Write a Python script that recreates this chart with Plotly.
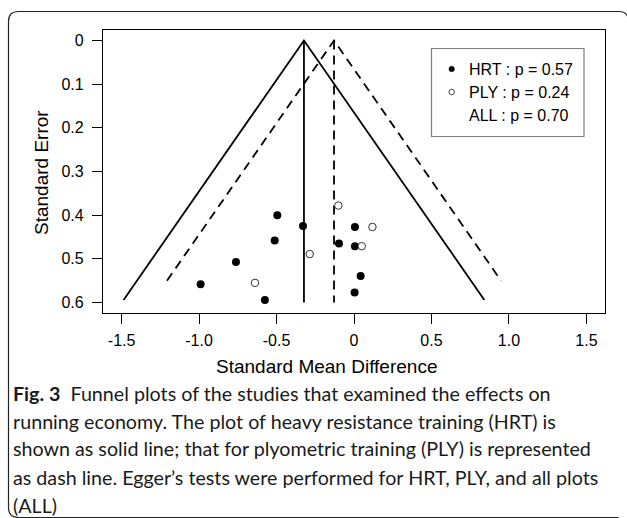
import plotly.graph_objects as go

# ---- data ----
hrt_smd = [-0.495, -0.329, -0.512, -0.762, -0.990, -0.575, 0.006, -0.097, 0.006, 0.043, 0.004]
hrt_se = [0.400, 0.425, 0.458, 0.507, 0.558, 0.594, 0.427, 0.465, 0.471, 0.539, 0.577]
ply_smd = [-0.101, 0.119, 0.050, -0.286, -0.639]
ply_se = [0.378, 0.427, 0.471, 0.489, 0.555]

hrt_mean = -0.323
ply_mean = -0.129
hrt_funnel_se = 0.594
ply_funnel_se = 0.550
center_line_se = 0.600

legend_labels = ["HRT : p = 0.57", "PLY : p = 0.24", "ALL : p = 0.70"]

x_ticks = [-1.5, -1.0, -0.5, 0, 0.5, 1.0, 1.5]
x_ticktext = ["-1.5", "-1.0", "-0.5", "0", "0.5", "1.0", "1.5"]
y_ticks = [0, 0.1, 0.2, 0.3, 0.4, 0.5, 0.6]
y_ticktext = ["0", "0.1", "0.2", "0.3", "0.4", "0.5", "0.6"]

caption_lines = [
    "<b>Fig. 3</b>\u00a0\u00a0Funnel plots of the studies that examined the effects on",
    "running economy. The plot of heavy resistance training (HRT) is",
    "shown as solid line; that for plyometric training (PLY) is represented",
    "as dash line. Egger\u2019s tests were performed for HRT, PLY, and all plots",
    "(ALL)",
]

# ---- layout geometry (pixels) ----
W_FIG, H_FIG = 627, 518
L, R, T, B = 103, 605, 30, 313
PW, PH = R - L, B - T


def px(x):
    return (x - L) / PW


def py(y):
    return (B - y) / PH


AX_FONT = "Liberation Sans, Arial, sans-serif"
CAP_FONT = "Lato, sans-serif"
z = 1.96

fig = go.Figure()

# funnels
for mean, se_max, dash in [(hrt_mean, hrt_funnel_se, "solid"), (ply_mean, ply_funnel_se, "9px,6px")]:
    fig.add_trace(go.Scatter(
        x=[mean - z * se_max, mean, mean + z * se_max],
        y=[se_max, 0, se_max],
        mode="lines", line=dict(color="black", width=1.8, dash=dash),
        hoverinfo="skip", showlegend=False))
    fig.add_trace(go.Scatter(
        x=[mean, mean], y=[0, center_line_se],
        mode="lines", line=dict(color="black", width=1.8, dash=dash),
        hoverinfo="skip", showlegend=False))

fig.add_trace(go.Scatter(
    x=hrt_smd, y=hrt_se, mode="markers",
    marker=dict(color="black", size=8, line=dict(width=0)),
    showlegend=False))
fig.add_trace(go.Scatter(
    x=ply_smd, y=ply_se, mode="markers",
    marker=dict(color="white", size=7.5, line=dict(color="#333333", width=1)),
    showlegend=False))

axis_common = dict(
    showgrid=False, zeroline=False, showline=True, mirror=True,
    linecolor="black", linewidth=1.3,
    ticks="outside", ticklen=10, tickwidth=1.3, tickcolor="black",
    tickfont=dict(family=AX_FONT, size=16, color="black"),
)

fig.update_xaxes(range=[-1.62, 1.62], tickvals=x_ticks, ticktext=x_ticktext,
                 ticklabelstandoff=3, **axis_common)
fig.update_yaxes(range=[0.624, -0.024], tickvals=y_ticks, ticktext=y_ticktext,
                 ticklabelstandoff=5, **axis_common)

shapes = []
annotations = []

# outer rounded frame (left side, top with both corners, bottom-left corner)
fx0, fy0, fx1, fy1, r = 8.5, 11.5, 628.5, 517.5, 10
path = (
    f"M {px(fx0)},{py(fy1 - r)} "
    f"L {px(fx0)},{py(fy0 + r)} "
    f"Q {px(fx0)},{py(fy0)} {px(fx0 + r)},{py(fy0)} "
    f"L {px(fx1 - r)},{py(fy0)} "
    f"Q {px(fx1)},{py(fy0)} {px(fx1)},{py(fy0 + r)} "
    f"M {px(fx0)},{py(fy1 - r)} "
    f"Q {px(fx0)},{py(fy1)} {px(fx0 + r)},{py(fy1)} "
    f"L {px(fx1 - r)},{py(fy1)}"
)
shapes.append(dict(type="path", xref="paper", yref="paper", path=path,
                   line=dict(color="#222222", width=1.2), layer="below"))

# legend box
shapes.append(dict(type="rect", xref="paper", yref="paper",
                   x0=px(431.5), x1=px(584), y0=py(136.5), y1=py(48.5),
                   line=dict(color="#7f7f7f", width=1.2), fillcolor="white"))
row_y = [69, 92, 115]
mx = 451.7
d = 5.5
shapes.append(dict(type="circle", xref="paper", yref="paper",
                   x0=px(mx - d / 2), x1=px(mx + d / 2), y0=py(row_y[0] + d / 2), y1=py(row_y[0] - d / 2),
                   fillcolor="black", line=dict(color="black", width=0.5)))
shapes.append(dict(type="circle", xref="paper", yref="paper",
                   x0=px(mx - d / 2), x1=px(mx + d / 2), y0=py(row_y[1] + d / 2), y1=py(row_y[1] - d / 2),
                   fillcolor="white", line=dict(color="#333333", width=0.9)))
for lbl, yy in zip(legend_labels, row_y):
    annotations.append(dict(text=lbl, xref="paper", yref="paper", x=px(467), y=py(yy),
                            xanchor="left", yanchor="middle", showarrow=False,
                            font=dict(family=AX_FONT, size=16, color="black")))

# axis titles
annotations.append(dict(text="Standard Mean Difference", xref="paper", yref="paper",
                        x=px(326), y=py(366), xanchor="center", yanchor="middle",
                        showarrow=False, font=dict(family=AX_FONT, size=19, color="black")))
annotations.append(dict(text="Standard Error", xref="paper", yref="paper",
                        x=px(41.5), y=py(172.5), xanchor="center", yanchor="middle",
                        textangle=-90, showarrow=False,
                        font=dict(family=AX_FONT, size=19, color="black")))

# caption
cap_y = [393, 421, 449, 477, 505]
for line, yy in zip(caption_lines, cap_y):
    annotations.append(dict(text=line, xref="paper", yref="paper", x=px(11), y=py(yy),
                            xanchor="left", yanchor="middle", showarrow=False,
                            font=dict(family=CAP_FONT, size=19.7, color="#1a1a1a")))

fig.update_layout(
    width=W_FIG, height=H_FIG,
    margin=dict(l=L, r=W_FIG - R, t=T, b=H_FIG - B, autoexpand=False),
    paper_bgcolor="white", plot_bgcolor="white",
    shapes=shapes, annotations=annotations, showlegend=False,
)

fig.write_html("out.html")
